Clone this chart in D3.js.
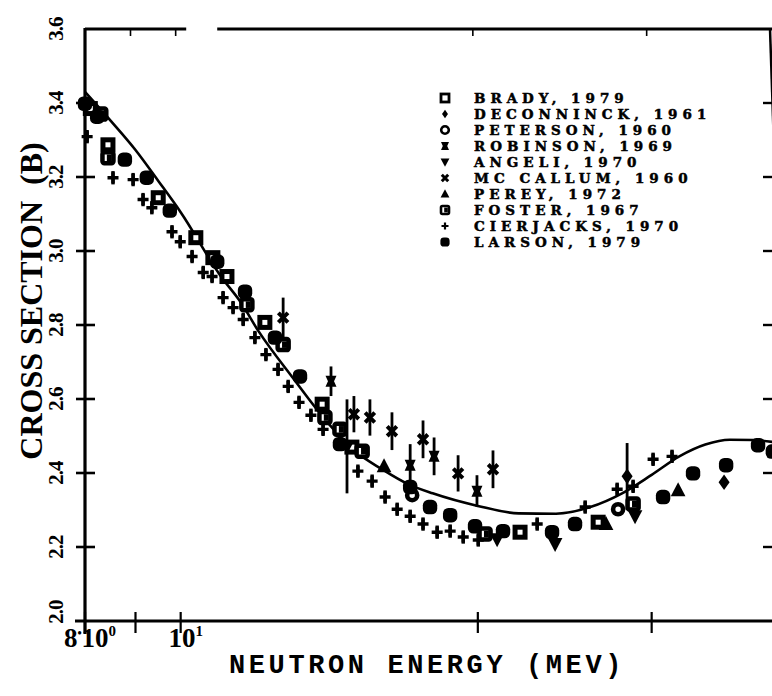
<!DOCTYPE html>
<html>
<head>
<meta charset="utf-8">
<script src="https://cdn.jsdelivr.net/npm/d3@7"></script>
<style>
  html, body { margin: 0; padding: 0; background: #fff; }
  svg { display: block; }
</style>
</head>
<body>
<svg id="chart" width="772" height="696"></svg>
<script>
// Energy in MeV, total cross section in barns.
// Each point is [energy, crossSection] or [energy, crossSection, error].

const xTickValues = [8, 9, 10, 20, 30];
const xTickLabels = [
  { value: 8, text: "8", mid: "\u2022", base: "10", sup: "0" },
  { value: 10, text: "", mid: "", base: "10", sup: "1" }
];
const yTickValues = [2.0, 2.2, 2.4, 2.6, 2.8, 3.0, 3.2, 3.4, 3.6];
const yTickLabels = ["2.0", "2.2", "2.4", "2.6", "2.8", "3.0", "3.2", "3.4", "3.6"];
const yRightTicks = [2.2, 2.4, 2.6, 2.8, 3.0, 3.2, 3.4];

// Evaluated (fitted) cross section curve
const fitEnergy = [8, 8.5, 9, 9.5, 10, 11, 11.5, 12, 13, 14, 15, 16, 17, 18, 20, 22, 24, 26, 28, 30, 32, 34, 36, 38, 40];
const fitSigma  = [3.43, 3.351, 3.273, 3.188, 3.105, 2.929, 2.862, 2.782, 2.656, 2.545, 2.46, 2.41, 2.37, 2.345, 2.311, 2.291, 2.29, 2.308, 2.345, 2.395, 2.445, 2.477, 2.49, 2.489, 2.483];

const brady = [
  [8.10, 3.385], [8.44, 3.287], [9.49, 3.144], [10.36, 3.036], [10.78, 2.982], [11.14, 2.931],
  [12.17, 2.807], [13.91, 2.586], [14.91, 2.470], [22.07, 2.240], [26.48, 2.267]
];
const deconninck = [
  [28.33, 2.391, 0.09], [35.52, 2.375]
];
const peterson = [
  [27.74, 2.302], [17.16, 2.340]
];
const robinson = [
  [14.20, 2.648, 0.040], [17.08, 2.421, 0.057], [18.06, 2.445, 0.051], [19.96, 2.351, 0.043]
];
const angeli = [
  [14.74, 2.472, 0.127], [20.92, 2.221], [23.95, 2.208], [28.86, 2.283]
];
const mcCallum = [
  [12.70, 2.820, 0.054], [14.98, 2.559, 0.049], [15.55, 2.550, 0.049], [16.37, 2.513, 0.051],
  [17.60, 2.491, 0.051], [19.10, 2.399, 0.049], [20.72, 2.410, 0.051]
];
const perey = [
  [16.07, 2.418], [26.97, 2.262], [31.91, 2.353]
];
const foster = [
  [8.30, 3.370], [8.44, 3.252], [11.67, 2.855], [12.70, 2.747], [14.00, 2.550], [14.50, 2.518],
  [15.27, 2.459], [20.34, 2.235], [28.73, 2.316]
];
const cierjacksErr = 0.018;
const cierjacks = [
  [8.04, 3.309], [8.54, 3.198], [8.95, 3.193], [9.16, 3.139], [9.35, 3.117],
  [9.80, 3.052], [9.99, 3.025], [10.27, 2.985], [10.54, 2.942], [10.76, 2.931],
  [11.04, 2.874], [11.30, 2.847], [11.57, 2.815], [11.89, 2.766], [12.20, 2.720],
  [12.55, 2.680], [12.85, 2.634], [13.18, 2.591], [13.55, 2.556], [13.94, 2.518],
  [15.12, 2.405], [15.63, 2.378], [16.11, 2.335], [16.57, 2.302], [17.08, 2.283],
  [17.60, 2.262], [18.19, 2.240], [18.75, 2.243], [19.33, 2.227], [20.02, 2.219],
  [22.97, 2.262], [25.69, 2.308], [27.68, 2.356], [28.73, 2.364], [30.10, 2.437],
  [31.46, 2.445]
];
const larson = [
  [8.00, 3.398], [8.23, 3.363], [8.78, 3.247], [9.24, 3.198], [9.75, 3.109],
  [10.89, 2.971], [11.62, 2.890], [12.46, 2.766], [13.21, 2.661], [14.50, 2.478],
  [17.08, 2.362], [17.89, 2.308], [18.75, 2.286], [19.87, 2.256], [21.21, 2.243],
  [23.78, 2.240], [25.09, 2.262], [30.81, 2.335], [33.04, 2.399], [35.69, 2.421],
  [38.45, 2.475], [39.8, 2.458]
];

const legendNames = [
  "BRADY, 1979", "DECONNINCK, 1961", "PETERSON, 1960", "ROBINSON, 1969", "ANGELI, 1970",
  "MC CALLUM, 1960", "PEREY, 1972", "FOSTER, 1967", "CIERJACKS, 1970", "LARSON, 1979"
];
const legendShapes = [
  "openSquare", "diamond", "openCircle", "bowtie", "triDown",
  "times", "triUp", "notchSquare", "plus", "dot"
];
const seriesData = [brady, deconninck, peterson, robinson, angeli, mcCallum, perey, foster, cierjacks, larson];

// ---------------------------------------------------------------
const svg = d3.select("#chart");
const ink = "#000";

const x = d3.scaleLog().domain([8, 40]).range([85, 775]);
const y = d3.scaleLinear().domain([2.0, 3.6]).range([621, 29]);

const serif = "'Liberation Serif', 'Times New Roman', serif";
const mono = "'Liberation Mono', 'Courier New', monospace";
const legendFont = "'DejaVu Serif', serif";

// ---- frame ----
const frame = svg.append("g").attr("stroke", ink).attr("fill", "none").attr("stroke-linecap", "butt");
frame.append("line").attr("x1", x(8)).attr("x2", x(8)).attr("y1", y(3.6) - 1).attr("y2", y(2.0) + 13).attr("stroke-width", 3.2);
frame.append("line").attr("x1", x(8) - 10).attr("x2", 772).attr("y1", y(2.0)).attr("y2", y(2.0)).attr("stroke-width", 3.2);
// top border (broken near 10 MeV)
frame.append("line").attr("x1", x(8)).attr("x2", x(10.13)).attr("y1", y(3.6)).attr("y2", y(3.6)).attr("stroke-width", 3.2);
frame.append("line").attr("x1", x(10.89)).attr("x2", 772).attr("y1", y(3.6)).attr("y2", y(3.6)).attr("stroke-width", 3.2);
// right border, leaning out of view
frame.append("line").attr("x1", 770).attr("x2", 790).attr("y1", y(3.6)).attr("y2", y(2.0)).attr("stroke-width", 2.5);

// left ticks crossing the axis
frame.selectAll(".ytick").data(yTickValues.slice(1, -1)).join("line")
  .attr("x1", x(8) - 9).attr("x2", x(8) + 10)
  .attr("y1", d => y(d)).attr("y2", d => y(d)).attr("stroke-width", 2.6);
// right ticks, inward
frame.selectAll(".rtick").data(yRightTicks).join("line")
  .attr("x1", 763).attr("x2", 772)
  .attr("y1", d => y(d)).attr("y2", d => y(d)).attr("stroke-width", 2.4);
// bottom ticks crossing the axis
frame.selectAll(".xtick").data(xTickValues).join("line")
  .attr("x1", d => x(d)).attr("x2", d => x(d))
  .attr("y1", y(2.0) - 9).attr("y2", y(2.0) + 12).attr("stroke-width", 2.2);
// top ticks, inward
frame.selectAll(".ttick").data(xTickValues.slice(1)).join("line")
  .attr("x1", d => x(d) - 5).attr("x2", d => x(d) - 5)
  .attr("y1", y(3.6)).attr("y2", y(3.6) + 7).attr("stroke-width", 1.6);

// ---- tick labels ----
const yl = svg.append("g").attr("font-family", serif).attr("font-weight", "bold")
  .attr("font-size", 21).attr("fill", ink);
yTickValues.forEach((v, i) => {
  const shift = v === 2.0 ? -9 : 0;
  yl.append("text")
    .attr("transform", `translate(63,${y(v) + shift}) rotate(-90)`)
    .attr("text-anchor", "middle")
    .attr("letter-spacing", -1)
    .text(yTickLabels[i]);
});

const xl = svg.append("g").attr("font-family", serif).attr("font-weight", "bold")
  .attr("font-size", 27).attr("fill", ink);
xTickLabels.forEach(t => {
  const tx = xl.append("text").attr("x", x(t.value) + 5).attr("y", 647).attr("text-anchor", "middle");
  if (t.text) tx.append("tspan").text(t.text);
  if (t.mid) tx.append("tspan").attr("font-size", 12).attr("dy", -10).text(t.mid);
  tx.append("tspan").attr("dy", t.mid ? 10 : 0).text(t.base);
  tx.append("tspan").attr("font-size", 15).attr("dy", -11).text(t.sup);
});

// ---- axis titles ----
svg.append("text")
  .attr("transform", `translate(42,${y(2.0) - 320}) rotate(-90)`)
  .attr("text-anchor", "middle")
  .attr("font-family", serif).attr("font-weight", "bold").attr("font-size", 32)
  .attr("fill", ink)
  .text("CROSS SECTION\u00a0\u00a0(B)");

svg.append("text")
  .attr("x", 427).attr("y", 673)
  .attr("text-anchor", "middle")
  .attr("font-family", mono).attr("font-weight", "bold").attr("font-size", 27)
  .attr("letter-spacing", 3.6)
  .attr("fill", ink)
  .text("NEUTRON ENERGY (MEV)");

// ---- marker shapes ----
function drawShape(g, shape, s, sw) {
  switch (shape) {
    case "openSquare":
      g.append("rect").attr("x", -s).attr("y", -s).attr("width", 2 * s).attr("height", 2 * s)
        .attr("fill", "#fff").attr("stroke", ink).attr("stroke-width", sw);
      break;
    case "notchSquare":
      g.append("rect").attr("x", -s).attr("y", -s).attr("width", 2 * s).attr("height", 2 * s)
        .attr("rx", s * 0.35)
        .attr("fill", "#fff").attr("stroke", ink).attr("stroke-width", sw);
      g.append("rect").attr("x", -s * 0.2).attr("y", -s * 0.6).attr("width", s * 0.9).attr("height", s * 1.2)
        .attr("fill", ink);
      break;
    case "openCircle":
      g.append("circle").attr("r", s).attr("fill", "#fff").attr("stroke", ink).attr("stroke-width", sw);
      break;
    case "diamond":
      g.append("path").attr("d", `M0,${-s * 1.2}L${s * 0.85},0L0,${s * 1.2}L${-s * 0.85},0Z`).attr("fill", ink);
      break;
    case "bowtie":
      g.append("path")
        .attr("d", `M${-s},${-s}L${s},${-s}L${s * 0.55},0L${s},${s}L${-s},${s}L${-s * 0.55},0Z`)
        .attr("fill", ink);
      break;
    case "triUp":
      g.append("path").attr("d", `M0,${-s * 1.15}L${s * 1.05},${s * 0.85}L${-s * 1.05},${s * 0.85}Z`).attr("fill", ink);
      break;
    case "triDown":
      g.append("path").attr("d", `M0,${s * 1.15}L${s * 1.05},${-s * 0.85}L${-s * 1.05},${-s * 0.85}Z`).attr("fill", ink);
      break;
    case "times":
      g.append("path").attr("d", `M${-s},${-s}L${s},${s}M${s},${-s}L${-s},${s}`)
        .attr("stroke", ink).attr("stroke-width", sw + 0.8).attr("fill", "none");
      break;
    case "plus":
      g.append("path").attr("d", `M${-s},0L${s},0M0,${-s}L0,${s}`)
        .attr("stroke", ink).attr("stroke-width", sw).attr("fill", "none");
      break;
    case "dot":
      g.append("rect").attr("x", -s).attr("y", -s).attr("width", 2 * s).attr("height", 2 * s)
        .attr("rx", s * 0.75).attr("fill", ink);
      break;
  }
}

// ---- fitted curve ----
const fitPoints = fitEnergy.map((e, i) => [e, fitSigma[i]]);
svg.append("path")
  .datum(fitPoints)
  .attr("fill", "none").attr("stroke", ink).attr("stroke-width", 2.6)
  .attr("d", d3.line().x(d => x(d[0])).y(d => y(d[1])).curve(d3.curveMonotoneX));

// ---- data points ----
const plotSize = {
  openSquare: [5, 5], notchSquare: [5.5, 4.5], openCircle: [5, 4.6], diamond: [6.5, 0],
  bowtie: [5.5, 0], triUp: [7, 0], triDown: [7, 0], times: [4.8, 3.2], plus: [5.5, 3.4], dot: [7.2, 0]
};
const pts = svg.append("g");
seriesData.forEach((data, si) => {
  const shape = legendShapes[si];
  data.forEach(p => {
    const cx = x(p[0]), cy = y(p[1]);
    const err = shape === "plus" ? cierjacksErr : p[2];
    if (err) {
      pts.append("line")
        .attr("x1", cx).attr("x2", cx)
        .attr("y1", y(p[1] - err)).attr("y2", y(p[1] + err))
        .attr("stroke", ink).attr("stroke-width", shape === "plus" ? 3.4 : 2.8);
    }
    const g = pts.append("g").attr("transform", `translate(${cx},${cy})`);
    const [s, sw] = plotSize[shape];
    drawShape(g, shape, s, sw);
  });
});

// ---- legend ----
const legendSize = {
  openSquare: [4, 2.8], notchSquare: [4, 2.6], openCircle: [3.8, 2.6], diamond: [3.5, 0],
  bowtie: [4, 0], triUp: [4.2, 0], triDown: [4.2, 0], times: [3.2, 2.2], plus: [3.5, 2.2], dot: [4.6, 0]
};
const legendTop = 98, legendStep = 16;
const legend = svg.append("g");
legendNames.forEach((name, i) => {
  const ry = legendTop + i * legendStep;
  const g = legend.append("g").attr("transform", `translate(445,${ry})`);
  const [s, sw] = legendSize[legendShapes[i]];
  drawShape(g, legendShapes[i], s, sw);
  legend.append("text")
    .attr("x", 474).attr("y", ry + 5)
    .attr("font-family", legendFont).attr("font-weight", "bold").attr("font-size", 13.5)
    .attr("letter-spacing", 5)
    .attr("fill", ink).attr("stroke", ink).attr("stroke-width", 0.5)
    .text(name);
});
</script>
</body>
</html>
